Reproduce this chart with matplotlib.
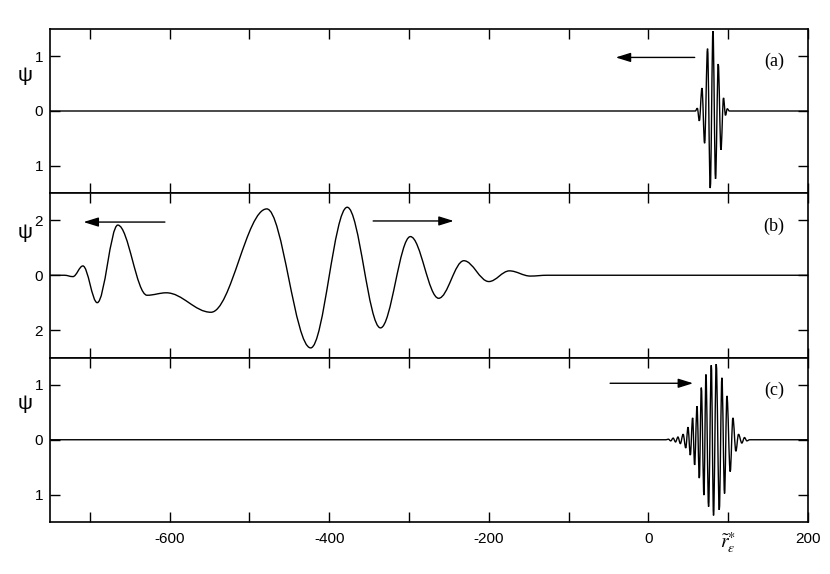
import matplotlib
matplotlib.use('Agg')
import matplotlib.pyplot as plt
from matplotlib.path import Path
from matplotlib.patches import PathPatch

# Extrema (x position, psi value); the line is drawn
# through them as smooth curves with flat tangents at every turning point.

# (a) narrow packet travelling left
a_x = [-750, 58.8, 61.3, 63.8, 67.1, 70.4, 74.1, 77.5, 80.9, 84.1, 87.5,
       90.9, 94.1, 96.6, 98.8, 101.5, 200]
a_y = [0, 0, 0.05, -0.18, 0.42, -0.59, 1.14, -1.41, 1.46, -1.24, 0.86,
       -0.71, 0.24, -0.08, 0.04, 0, 0]

# (b) broad wave after scattering
b_x = [-750, -732, -721.3, -708.8, -690.8, -665.0, -628.3, -604.2, -548.3,
       -478.3, -423.3, -377.5, -335.8, -298.3, -262.9, -231.3, -200.0,
       -174.2, -147.9, -127, 200]
b_y = [0, 0, -0.05, 0.34, -1.0, 1.83, -0.73, -0.64, -1.35,
       2.42, -2.65, 2.48, -1.92, 1.41, -0.84, 0.53, -0.23,
       0.16, -0.03, 0, 0]

# (c) wide packet travelling right
c_x = [-750, 22, 25, 28, 31, 34, 37, 40, 43.5, 46.8, 49.6, 52.5, 55.4,
       57.9, 60.9, 63.8, 66.3, 69.6, 72.1, 75.4, 78.8, 81.6, 85.0, 88.8,
       92.1, 95.4, 98.4, 102.5, 105.9, 109.6, 112.9, 117.1, 120.4, 123.4,
       127, 200]
c_y = [0, 0, 0.01, -0.02, 0.03, -0.04, 0.05, -0.07, 0.10, -0.15, 0.23,
       -0.28, 0.40, -0.46, 0.61, -0.70, 0.95, -1.01, 1.19, -1.22, 1.36,
       -1.38, 1.38, -1.28, 1.13, -0.98, 0.80, -0.58, 0.40, -0.21, 0.10,
       -0.06, 0.04, -0.02, 0, 0]

# arrows: (tail x, head x, y)
arrows = {
    'a': [(58, -41, 0.98)],
    'b': [(-606, -708, 1.94), (-345, -244, 1.98)],
    'c': [(-48, 56, 1.03)],
}

x_ticks = [-700, -600, -500, -400, -300, -200, -100, 0, 100, 200]
x_ticklabels = ['', '-600', '', '-400', '', '-200', '', '0',
                r'$\tilde{r}^{\ast}_{\varepsilon}$', '200']

panels = [
    ('a', a_x, a_y, (-1.5, 1.5), [1, 0, -1], ['1', '0', '1'], 0.66),
    ('b', b_x, b_y, (-3, 3), [2, 0, -2], ['2', '0', '2'], 0.70),
    ('c', c_x, c_y, (-1.5, 1.5), [1, 0, -1], ['1', '0', '1'], 0.66),
]

plt.rcParams['font.family'] = ['Liberation Sans', 'DejaVu Sans']
plt.rcParams['mathtext.fontset'] = 'stix'


def wave_path(xs, ys, k=0.36):
    verts = [(xs[0], ys[0])]
    codes = [Path.MOVETO]
    for x0, y0, x1, y1 in zip(xs[:-1], ys[:-1], xs[1:], ys[1:]):
        d = x1 - x0
        verts += [(x0 + d * k, y0), (x1 - d * k, y1), (x1, y1)]
        codes += [Path.CURVE4] * 3
    return Path(verts, codes)


W, H = 830, 574
fig = plt.figure(figsize=(W / 100, H / 100), dpi=100)
left, right = 50 / W, 808 / W
tops = [29, 193, 357.5]
bots = [193, 357.5, 522]

for i, (name, xs, ys, ylim, yt, ytl, ylab_y) in enumerate(panels):
    ax = fig.add_axes([left, 1 - bots[i] / H, right - left,
                       (bots[i] - tops[i]) / H])
    ax.add_patch(PathPatch(wave_path(xs, ys), fill=False,
                           edgecolor='black', lw=1.0))
    ax.set_xlim(-750, 200)
    ax.set_ylim(*ylim)
    ax.set_xticks(x_ticks)
    ax.set_yticks(yt)
    ax.set_yticklabels(ytl)
    ax.tick_params(direction='in', length=7, width=1, top=True, right=True,
                   labelsize=11, color='black')
    ax.tick_params(axis='x', pad=7)
    ax.tick_params(axis='y', pad=5)
    if name == 'c':
        ax.set_xticklabels(x_ticklabels)
        for lab in ax.get_xticklabels():
            if 'tilde' in lab.get_text():
                lab.set_fontsize(14)
    else:
        ax.tick_params(labelbottom=False)
    for sp in ax.spines.values():
        sp.set_linewidth(1.2)
    ax.set_ylabel('ψ', rotation=0, fontsize=15)
    ax.yaxis.set_label_coords(-0.033, ylab_y)
    ax.text(0.955, 0.80, '(%s)' % name, transform=ax.transAxes,
            family='Liberation Serif', fontsize=13, ha='center', va='center')
    for tail, head, yy in arrows[name]:
        ax.annotate('', xy=(head, yy), xytext=(tail, yy),
                    arrowprops=dict(arrowstyle='-|>,head_length=0.9,head_width=0.28',
                                    color='black', lw=1.0, shrinkA=0, shrinkB=0))

fig.savefig('out.png', dpi=100)
